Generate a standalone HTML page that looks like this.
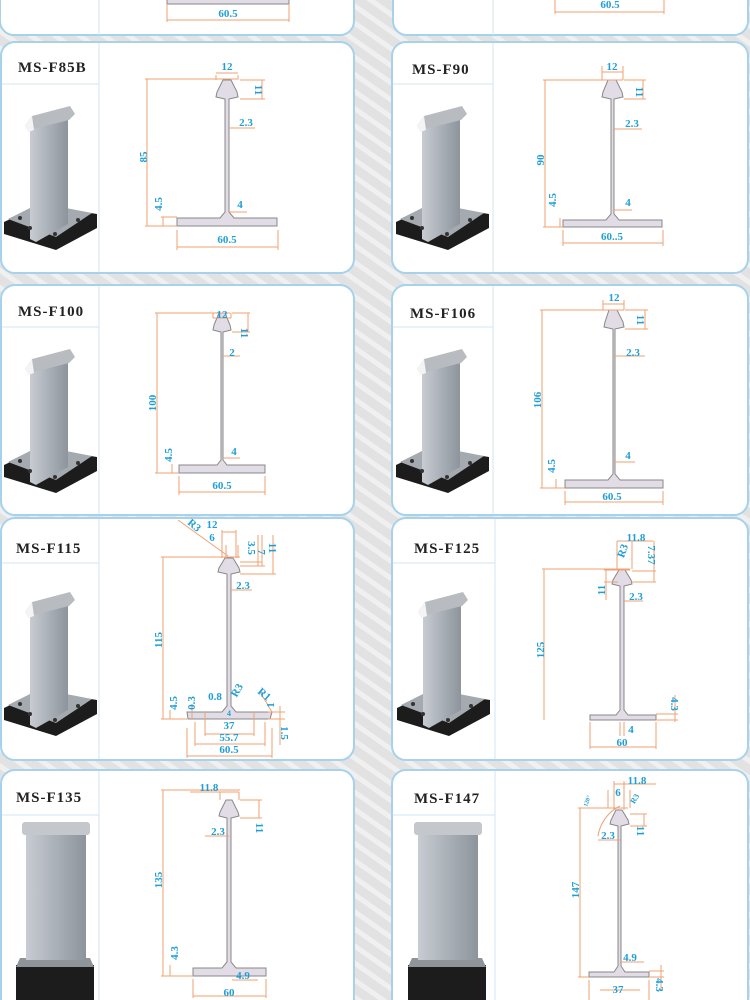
<!DOCTYPE html>
<html><head><meta charset="utf-8"><style>
html,body{margin:0;padding:0;width:750px;height:1000px;overflow:hidden;background:#e4e4e4;}
svg{display:block}
.t{font-family:"Liberation Serif",serif;font-weight:bold;font-size:15px;letter-spacing:1px;fill:#222;}
.l{font-family:"Liberation Serif",serif;font-weight:bold;font-size:11px;fill:#1e9fd8;}
.d{stroke:#f0a070;stroke-width:1;fill:none}
.p{fill:#e2dce6;stroke:#888;stroke-width:1}
</style></head><body>
<svg width="750" height="1000" viewBox="0 0 750 1000" xmlns="http://www.w3.org/2000/svg">
<defs>
<pattern id="bg" width="14" height="14" patternUnits="userSpaceOnUse" patternTransform="rotate(-55)">
<rect width="14" height="14" fill="#e2e2e2"/><rect width="5" height="14" fill="#f0f0f0"/></pattern>
<linearGradient id="al" x1="0" x2="1"><stop offset="0" stop-color="#c8ccd2"/><stop offset="0.5" stop-color="#aab0b8"/><stop offset="1" stop-color="#8e949c"/></linearGradient>
<g id="ph">
<polygon points="4,180 40,163 97,172 97,186 56,208 4,192" fill="#1c1c1c"/>
<polygon points="8,177 40,161 92,171 56,195" fill="#a4aab0"/>
<polygon points="30,85 68,72 68,182 36,200 30,197" fill="url(#al)"/>
<polygon points="25,84 32,74 70,64 75,72 69,78 29,88" fill="#b8bcc0"/>
<polygon points="25,84 32,74 34,88 28,90" fill="#f4f4f4"/>
<circle cx="30" cy="186" r="2" fill="#333"/><circle cx="55" cy="192" r="2" fill="#333"/><circle cx="78" cy="178" r="2" fill="#333"/><circle cx="20" cy="176" r="2" fill="#333"/>
</g>
<g id="ph2">
<polygon points="16,195 94,195 94,232 16,232" fill="#1c1c1c"/>
<polygon points="20,188 90,188 94,197 16,197" fill="#8e949a"/>
<rect x="26" y="60" width="60" height="130" fill="url(#al)"/>
<rect x="22" y="52" width="68" height="13" rx="3" fill="#c4c8cc"/>
</g>
</defs>
<rect width="750" height="1000" fill="url(#bg)"/>

<g fill="#fff" stroke="#a6d2ec" stroke-width="2">
<rect x="0" y="-20" width="354" height="55" rx="14"/>
<rect x="393" y="-20" width="355" height="55" rx="14"/>
<rect x="1" y="42" width="353" height="231" rx="14"/>
<rect x="392" y="42" width="356" height="231" rx="14"/>
<rect x="1" y="285" width="353" height="230" rx="14"/>
<rect x="392" y="285" width="356" height="230" rx="14"/>
<rect x="1" y="518" width="353" height="242" rx="14"/>
<rect x="392" y="518" width="356" height="242" rx="14"/>
<rect x="1" y="770" width="353" height="250" rx="14"/>
<rect x="392" y="770" width="356" height="250" rx="14"/>
</g>
<g stroke="#cfe6f4" stroke-width="1">
<line x1="99" y1="0" x2="99" y2="35"/><line x1="493" y1="0" x2="493" y2="35"/>
<line x1="99" y1="43" x2="99" y2="272"/><line x1="2" y1="84" x2="99" y2="84"/>
<line x1="493" y1="43" x2="493" y2="272"/><line x1="393" y1="84" x2="493" y2="84"/>
<line x1="99" y1="286" x2="99" y2="514"/><line x1="2" y1="327" x2="99" y2="327"/>
<line x1="493" y1="286" x2="493" y2="514"/><line x1="393" y1="327" x2="493" y2="327"/>
<line x1="99" y1="519" x2="99" y2="759"/><line x1="2" y1="563" x2="99" y2="563"/>
<line x1="495" y1="519" x2="495" y2="759"/><line x1="393" y1="563" x2="495" y2="563"/>
<line x1="99" y1="771" x2="99" y2="1000"/><line x1="2" y1="815" x2="99" y2="815"/>
<line x1="495" y1="771" x2="495" y2="1000"/><line x1="393" y1="815" x2="495" y2="815"/>
</g>

<text class="t" x="18" y="72">MS-F85B</text>
<text class="t" x="412" y="74">MS-F90</text>
<text class="t" x="18" y="316">MS-F100</text>
<text class="t" x="410" y="318">MS-F106</text>
<text class="t" x="16" y="553">MS-F115</text>
<text class="t" x="414" y="553">MS-F125</text>
<text class="t" x="16" y="802">MS-F135</text>
<text class="t" x="414" y="803">MS-F147</text>

<use href="#ph" x="0" y="42"/>
<use href="#ph" x="392" y="42"/>
<use href="#ph" x="0" y="285"/>
<use href="#ph" x="392" y="285"/>
<use href="#ph" x="0" y="528"/>
<use href="#ph" x="393" y="528"/>
<use href="#ph2" x="0" y="770"/>
<use href="#ph2" x="392" y="770"/>

<rect x="167" y="-4" width="122" height="8" class="p"/>
<path class="d" d="M167,4 V22 M289,4 V22 M167,20 H289 M555,0 V14 M664,0 V14 M555,12 H664"/>
<text class="l" x="228" y="17" text-anchor="middle">60.5</text>
<text class="l" x="610" y="8" text-anchor="middle">60.5</text>

<!-- F85B -->
<path class="p" d="M223,80 L231,80 L237,92 L238,97 L229,99 L229,212 L234,218 L277,218 L277,226 L177,226 L177,218 L220,218 L225,212 L225,99 L216,97 L217,92 Z"/>
<path class="d" d="M147,79 V226 M145,79 H237 M145,226 H177 M216,75 V80 M238,75 V80 M216,73 H238 M240,80 H265 M240,99 H265 M262,80 V99 M229,128 H255 M228,212 H247 M177,230 V250 M278,230 V250 M177,247 H278 M163,217 V226 M161,217 H177"/>
<text class="l" x="227" y="70" text-anchor="middle">12</text>
<text class="l" transform="translate(255,90) rotate(90)" text-anchor="middle">11</text>
<text class="l" x="246" y="126" text-anchor="middle">2.3</text>
<text class="l" transform="translate(147,157) rotate(-90)" text-anchor="middle">85</text>
<text class="l" transform="translate(162,204) rotate(-90)" text-anchor="middle">4.5</text>
<text class="l" x="240" y="208" text-anchor="middle">4</text>
<text class="l" x="227" y="243" text-anchor="middle">60.5</text>

<!-- F90 -->
<path class="p" d="M608,80 L616,80 L622,92 L623,97 L614,99 L614,214 L619,220 L662,220 L662,227 L563,227 L563,220 L606,220 L611,214 L611,99 L602,97 L603,92 Z"/>
<path class="d" d="M545,80 V227 M543,80 H623 M543,227 H563 M602,66 V80 M623,66 V80 M602,72 H623 M624,80 H646 M624,99 H646 M643,80 V99 M614,129 H642 M613,210 H632 M563,230 V246 M663,230 V246 M563,243 H663 M560,218 V227"/>
<text class="l" x="612" y="70" text-anchor="middle">12</text>
<text class="l" transform="translate(636,92) rotate(90)" text-anchor="middle">11</text>
<text class="l" x="632" y="127" text-anchor="middle">2.3</text>
<text class="l" transform="translate(544,160) rotate(-90)" text-anchor="middle">90</text>
<text class="l" transform="translate(556,200) rotate(-90)" text-anchor="middle">4.5</text>
<text class="l" x="628" y="206" text-anchor="middle">4</text>
<text class="l" x="612" y="240" text-anchor="middle">60..5</text>

<!-- F100 -->
<path class="p" d="M219,313 L225,313 L230,325 L231,330 L223,332 L223,460 L227,465 L265,465 L265,473 L179,473 L179,465 L217,465 L221,460 L221,332 L213,330 L214,325 Z"/>
<path class="d" d="M157,313 V473 M155,313 H230 M155,473 H179 M213,318 V313 M231,318 V313 M213,318 H231 M232,313 H250 M232,332 H250 M248,313 V332 M223,356 H240 M223,458 H240 M179,476 V495 M265,476 V495 M179,492 H265 M172,464 V473"/>
<text class="l" x="222" y="318" text-anchor="middle">12</text>
<text class="l" transform="translate(241,333) rotate(90)" text-anchor="middle">11</text>
<text class="l" x="232" y="356" text-anchor="middle">2</text>
<text class="l" transform="translate(156,403) rotate(-90)" text-anchor="middle">100</text>
<text class="l" transform="translate(172,455) rotate(-90)" text-anchor="middle">4.5</text>
<text class="l" x="234" y="455" text-anchor="middle">4</text>
<text class="l" x="222" y="489" text-anchor="middle">60.5</text>

<!-- F106 -->
<path class="p" d="M609,310 L617,310 L623,322 L624,327 L615,329 L615,474 L620,480 L663,480 L663,488 L565,488 L565,480 L608,480 L613,474 L613,329 L604,327 L605,322 Z"/>
<path class="d" d="M542,310 V488 M540,310 H624 M540,488 H565 M603,300 V310 M624,300 V310 M603,304 H624 M625,310 H648 M625,329 H648 M645,310 V329 M615,356 H645 M614,462 H635 M565,491 V505 M663,491 V505 M565,502 H663 M556,479 V488"/>
<text class="l" x="614" y="301" text-anchor="middle">12</text>
<text class="l" transform="translate(637,320) rotate(90)" text-anchor="middle">11</text>
<text class="l" x="633" y="356" text-anchor="middle">2.3</text>
<text class="l" transform="translate(541,400) rotate(-90)" text-anchor="middle">106</text>
<text class="l" transform="translate(555,466) rotate(-90)" text-anchor="middle">4.5</text>
<text class="l" x="628" y="459" text-anchor="middle">4</text>
<text class="l" x="612" y="500" text-anchor="middle">60.5</text>

<!-- F115 -->
<path class="p" d="M225,558 L233,558 L239,568 L240,572 L231,574 L231,706 L236,712 L272,712 L270,719 L188,719 L187,712 L222,712 L227,706 L227,574 L218,572 L219,568 Z"/>
<path class="d" d="M163,557 V719 M161,557 H240 M161,719 H187 M178,520 L228,556 M222,530 V558 M236,530 V558 M222,532 H236 M226,545 V558 M238,545 V558 M240,562 H262 M240,566 H265 M240,574 H276 M258,535 V566 M262,535 V566 M273,535 V574 M231,590 H252 M170,710 V719 M192,704 V719 M205,712 V736 M254,712 V736 M205,734 H254 M195,722 V746 M265,722 V746 M195,744 H265 M187,728 V758 M272,728 V758 M187,756 H272 M268,712 H285 M268,719 H285 M280,706 V745 M260,692 L272,712"/>
<text class="l" x="212" y="528" text-anchor="middle">12</text>
<text class="l" x="212" y="541" text-anchor="middle">6</text>
<text class="l" transform="translate(192,528) rotate(40)" text-anchor="middle">R3</text>
<text class="l" transform="translate(248,548) rotate(90)" text-anchor="middle">3.5</text>
<text class="l" transform="translate(258,552) rotate(90)" text-anchor="middle">7</text>
<text class="l" transform="translate(269,548) rotate(90)" text-anchor="middle">11</text>
<text class="l" x="243" y="589" text-anchor="middle">2.3</text>
<text class="l" transform="translate(162,640) rotate(-90)" text-anchor="middle">115</text>
<text class="l" transform="translate(177,703) rotate(-90)" text-anchor="middle">4.5</text>
<text class="l" transform="translate(195,703) rotate(-90)" text-anchor="middle">0.3</text>
<text class="l" x="215" y="700" text-anchor="middle">0.8</text>
<text class="l" transform="translate(240,692) rotate(-60)" text-anchor="middle">R3</text>
<text class="l" transform="translate(262,697) rotate(40)" text-anchor="middle">R1</text>
<text class="l" transform="translate(274,705) rotate(-90)" text-anchor="middle">1</text>
<text class="l" x="229" y="729" text-anchor="middle">37</text>
<text class="l" x="229" y="741" text-anchor="middle">55.7</text>
<text class="l" transform="translate(281,733) rotate(90)" text-anchor="middle">1.5</text>
<text class="l" x="229" y="753" text-anchor="middle">60.5</text>
<text class="l" x="229" y="716" text-anchor="middle" style="font-size:8px">4</text>

<!-- F125 -->
<path class="p" d="M619,570 L625,570 L631,580 L632,584 L624,586 L624,710 L628,715 L656,715 L656,720 L590,720 L590,715 L616,715 L620,710 L620,586 L612,584 L613,580 Z"/>
<path class="d" d="M544,569 V720 M542,569 H630 M606,569 V600 M604,570 H630 M604,582 H618 M617,541 V569 M632,541 V569 M617,541 H653 M632,571 H656 M632,582 H656 M654,541 V582 M624,601 H643 M590,722 V749 M656,722 V749 M590,747 H656 M656,720 H678 M656,714 H678 M675,695 V722 M620,722 V736 M624,722 V736"/>
<text class="l" x="636" y="541" text-anchor="middle">11.8</text>
<text class="l" transform="translate(626,552) rotate(-70)" text-anchor="middle">R3</text>
<text class="l" transform="translate(648,555) rotate(90)" text-anchor="middle">7.37</text>
<text class="l" transform="translate(605,590) rotate(-90)" text-anchor="middle">11</text>
<text class="l" x="636" y="600" text-anchor="middle">2.3</text>
<text class="l" transform="translate(544,650) rotate(-90)" text-anchor="middle">125</text>
<text class="l" transform="translate(671,704) rotate(90)" text-anchor="middle">4.3</text>
<text class="l" x="631" y="733" text-anchor="middle">4</text>
<text class="l" x="622" y="746" text-anchor="middle">60</text>

<!-- F135 -->
<path class="p" d="M226,800 L232,800 L238,812 L239,816 L231,818 L231,962 L236,968 L266,968 L266,976 L193,976 L193,968 L222,968 L227,962 L227,818 L219,816 L220,812 Z"/>
<path class="d" d="M163,790 V976 M161,790 H240 M190,792 H239 M220,792 V800 M239,792 V800 M240,800 H262 M240,818 H262 M259,800 V818 M205,836 H229 M161,976 H193 M170,965 V976 M193,979 V998 M266,979 V998 M193,996 H266 M232,980 H258"/>
<text class="l" x="209" y="791" text-anchor="middle">11.8</text>
<text class="l" transform="translate(256,828) rotate(90)" text-anchor="middle">11</text>
<text class="l" x="218" y="835" text-anchor="middle">2.3</text>
<text class="l" transform="translate(162,880) rotate(-90)" text-anchor="middle">135</text>
<text class="l" transform="translate(178,953) rotate(-90)" text-anchor="middle">4.3</text>
<text class="l" x="243" y="979" text-anchor="middle">4.9</text>
<text class="l" x="229" y="996" text-anchor="middle">60</text>

<!-- F147 -->
<path class="p" d="M616,810 L622,810 L628,820 L629,824 L621,826 L621,966 L625,972 L649,972 L649,977 L589,977 L589,972 L614,972 L618,966 L618,826 L610,824 L611,820 Z"/>
<path class="d" d="M580,808 V977 M578,808 H628 M578,977 H589 M614,781 V810 M624,781 V810 M614,784 H656 M608,790 V808 M630,790 V808 M630,814 H647 M630,826 H647 M644,814 V826 M598,840 H620 M620,962 H644 M589,980 V1000 M649,980 V1000 M600,990 H640 M649,977 H664 M649,971 H664 M661,965 V990 M620,806 A40,40 0 0 0 598,836"/>
<text class="l" x="637" y="784" text-anchor="middle">11.8</text>
<text class="l" x="618" y="796" text-anchor="middle">6</text>
<text class="l" transform="translate(637,800) rotate(-60)" text-anchor="middle" style="font-size:8px">R3</text>
<text class="l" transform="translate(587,807) rotate(-70)" style="font-size:6px">120°</text>
<text class="l" x="608" y="839" text-anchor="middle">2.3</text>
<text class="l" transform="translate(637,831) rotate(90)" text-anchor="middle">11</text>
<text class="l" transform="translate(579,890) rotate(-90)" text-anchor="middle">147</text>
<text class="l" x="630" y="961" text-anchor="middle">4.9</text>
<text class="l" x="618" y="993" text-anchor="middle">37</text>
<text class="l" transform="translate(656,985) rotate(90)" text-anchor="middle">4.3</text>
</svg>
</body></html>
